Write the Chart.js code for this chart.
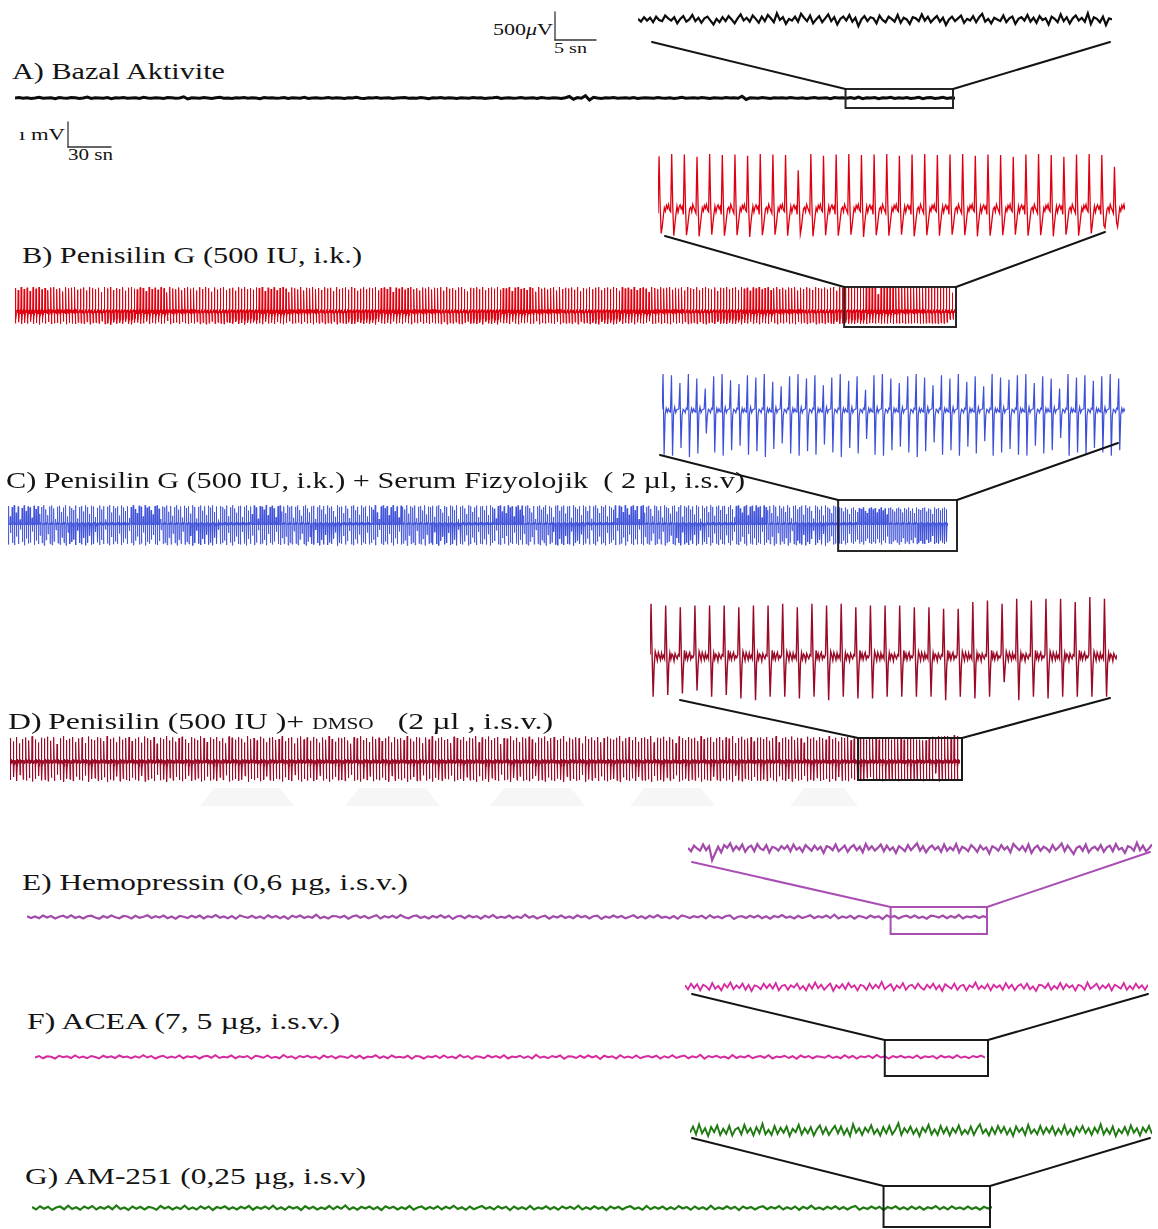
<!DOCTYPE html>
<html>
<head>
<meta charset="utf-8">
<title>EEG kayıtları</title>
<script src="https://cdn.jsdelivr.net/npm/chart.js@4.4.1/dist/chart.umd.min.js"></script>
<style>
  html, body { margin: 0; padding: 0; background: #fff; }
  #page { position: relative; width: 1158px; height: 1229px; overflow: hidden; background: #fff; }
  #page canvas { position: absolute; }
  .lbl { position: absolute; font-family: "Liberation Serif", "Times New Roman", serif; color: #141414;
         white-space: pre; transform-origin: 0 0; line-height: 1; }
  #ov { position: absolute; left: 0; top: 0; }
</style>
</head>
<body>
<div id="page"></div>
<script>
// ---------------------------------------------------------------------------
// Trace values are in hundredths of a millivolt (10 µV units).
// Spiking traces are stored as one peak and one trough per discharge plus a
// short inter-spike waveform; flat traces are stored sample by sample.
// ---------------------------------------------------------------------------
const UNIT_MV = 0.01;

// A) Bazal Aktivite
const aMain = [
  0,2,-1,1,-2,0,3,-1,0,1,-3,2,0,-1,2,1,-2,0,4,-2,
  1,0,-1,2,-3,1,0,2,-1,0,1,-2,3,0,-1,1,0,-2,2,1,
  -1,0,5,-4,1,0,-1,2,0,-2,1,3,-1,0,-2,1,0,2,-1,1,
  0,-3,2,0,1,-1,0,2,-2,1,0,-1,3,-2,0,1,-1,0,2,-1,
  1,0,-2,1,0,3,-1,-2,1,0,2,-1,0,1,-2,0,1,2,-1,0,
  -1,2,0,-3,1,0,2,-1,1,0,-2,1,0,-1,2,0,1,-2,0,1,
  3,-2,0,1,-1,0,2,-1,0,1,-2,2,0,-1,1,0,-2,1,6,-5,
  2,-1,9,-8,3,0,-2,1,0,2,-1,0,1,-1,2,-2,0,1,0,-1,
  2,0,-1,1,-2,0,3,-1,0,1,-1,2,0,-2,1,0,-1,2,0,1,
  -1,7,-6,1,0,-1,2,0,-2,1,0,1,-1,2,0,-1,1,-2,0,2,
  -1,0,1,-3,2,0,1,-1,2,-2,4,-3,1,0,2,-3,1,0,3,-2,
  1,-1,2,-2,0,3,-3,1,2,-2,0,3,-2,1,-1
];
const aInset = [
  2,-3,5,-1,4,-4,6,0,-2,8,3,-1,5,-6,2,7,-3,1,9,-2,
  4,-5,3,6,-1,-8,2,-4,5,-2,7,1,-6,3,10,-1,4,-3,8,2,
  -5,6,-2,9,3,-4,12,0,5,-7,2,-1,6,-3,11,4,-2,8,-6,1,
  7,-4,3,10,-2,5,-8,2,6,-1,9,-3,4,-11,1,7,-2,5,3,-6,
  8,0,-4,6,2,-3,9,-5,4,1,-7,5,3,-2,10,-1,6,-4,2,7,
  -3,4,-9,1,6,-2,3,8,-5,2,-1,7,-4,5,11,-3,2,-6,4,1,
  -2,8,-4,3,6,-7,2,5,-1,9,-3,4,-5,7,0,3,-8,6,2,-4,
  10,-2,5,-6,3,8,-1,4,-3,12,-7,5,2,-4,6,-9,3,1
];

// B) Penisilin G — peaks / troughs of each discharge
const bPreUp = [
  95,88,100,92,97,84,99,93,100,90,96,87,98,100,91,95,82,99,94,97,
  100,89,93,98,86,100,95,91,97,80,99,94,100,88,96,92,99,85,97,100,
  93,90,98,96,83,100,92,97,89,99,95,78,100,94,91,98,87,96,100,93,
  97,86,99,92,100,95,81,98,90,96,100,88,94,97,85,99,93,100,91,96,
  89,98,95,100,84,97,92,99,87,96,100,93,79,98,95,90,100,86,97,94,
  100,91,96,88,99,94,97,83,100,92,95,98,89,100,96,85,93,99,91,97,
  94,100,87,95,98,92,100,80,97,93,99,89,96,100,91,95,86,98,94,100,
  90,97,95,99,85,100,93,96,88,98,100,92,82,97,95,99,91,100,87,96,
  98,93,100,89,96,94,99,84,97,100,92,95,88,99,96,81,100,93,97,90,
  95,99,86,100,92,97,94,98,89,100,83,96,93,99,91,97,100,87,95,98,
  92,100,96,85,99,94,97,90,100,88,95,98,93,79,100,96,91,99,94,97,
  100,89,97,93,98,86,100,95,92,99,87,96,100,94,90,98,84,97,95,100,
  91,96,99,88,100,93,97,85,98,94,100,90,96,99,87,95,100,92,97,89,
  98,95,100,86,97,92,99,94,88,100,96,93,98,90,97,100,85,99,95
];
const bPreDown = [
  45,41,48,43,46,39,47,44,50,42,46,40,48,45,43,47,38,49,44,46,
  48,42,45,47,40,49,44,43,46,37,48,45,50,41,46,44,47,39,46,49,
  44,42,47,45,38,48,43,46,41,47,45,36,49,44,42,47,40,45,48,43,
  46,40,48,43,49,45,38,47,42,46,48,41,44,46,39,48,44,49,42,45,
  41,47,45,49,39,46,43,48,40,45,49,44,37,47,45,42,48,40,46,44,
  49,42,46,41,48,44,46,39,49,43,45,47,41,48,46,40,44,48,42,46,
  44,49,40,45,47,43,48,38,46,44,48,41,45,49,42,45,40,47,44,48,
  42,46,45,48,40,49,44,46,41,47,48,43,38,46,45,48,42,49,40,45,
  47,44,49,41,45,44,48,39,46,49,43,45,41,48,46,37,49,44,46,42,
  45,48,40,49,43,46,44,47,41,49,39,45,44,48,42,46,49,40,45,47,
  43,49,46,40,48,44,46,42,49,41,45,47,44,37,48,46,42,48,44,46,
  49,41,46,44,47,40,48,45,43,48,40,46,49,44,42,47,39,46,45,48,
  42,46,48,41,49,44,46,39,47,44,49,42,45,48,40,45,49,43,46,41,
  47,45,49,40,46,43,48,44,41,49,45,44,47,42,46,48,39,47,45
];
const bZoomUp = [
  96,100,99,95,100,98,99,97,100,99,98,71,100,97,99,100,98,99,100,97,
  99,100,98,99,100,97,99,98,95,99,100,98,95,99,100,98,77
];
const bZoomDown = [
  42,46,45,47,44,46,45,48,45,44,46,43,47,45,46,44,48,45,46,44,
  47,45,46,44,45,47,46,45,44,46,45,47,44,46,42,28,22
];
const bWaves = [
  [-6,'U',10,'D',-30,-12,4,-2,8,3,10,0],
  [-3,'U',6,'D',-26,-8,7,-4,5,9,2,6],
  [-8,'U',12,'D',-32,-14,2,5,-3,10,4,-1]
];

// C) Penisilin G + Serum Fizyolojik
const cPreUp = [
  72,30,68,75,45,70,18,64,74,52,70,66,25,73,60,71,40,68,75,58,
  35,70,74,62,20,69,73,48,66,75,30,71,64,56,74,22,68,72,50,75,
  67,40,73,70,28,65,74,58,71,19,69,75,46,72,63,70,34,74,66,52,
  71,24,68,75,60,44,73,69,30,75,65,70,55,38,72,74,61,20,70,67,
  74,49,72,33,68,75,57,70,26,73,64,71,42,75,68,22,69,74,53,71,
  36,73,66,75,48,70,18,72,68,59,74,31,67,75,62,45,71,73,28,69,
  75,54,70,40,74,66,21,72,69,57,75,35,68,73,63,27,71,74,50,70,
  44,75,67,72,25,69,74,56,33,71,75,62,46,70,73,20,68,75,58,72,
  39,74,65,71,52,29,75,68,70,43,73,61,24,72,75,55,69,37,74,66,
  71,30,73,68,57,75,46,20,70,74,63,72,35,67,75,51,70,26,73,69,
  58,75,41,71,66,74,23,69,72,54,75,38,70,67,73,29,71,75,60,45,
  72,68,31,74,70,56,75,19,69,73,62,40,75,71,48,66,74,27,70,72,
  55,73,36,75,68,61,22,72,74,50,70,43,75,66,71,30,69,74,57,73,
  34,71,75,63,46,72,20,70,74,58,68,75,39,71,65,28,73,75,53,69,
  74,42,70,72,25,75,67,60,71,36,74,69,52,73,21,70,75,62,44,72,
  68,75,30,71,66,57,74,24,73,69,48,75,62,37,70,74,55,72,19,71,
  75,45,69,73,60,32,74,70,54,72,26,75,67,63,41,71,74,50,68,75,
  29,72,66,74,58,70,38,75,69,21,73,64,71,47,75,68,33,70,74,56,
  71,73,40,68,75,59,27,72,74,62,45,70,75,35,69,73,51,74,66,
  70,26,74,67,55,72,44,75,69,31,73,62,70,48,75,66,23,71,74,59,
  68,73,37,75,64,70,52,22,74,69,57,72,34,75,67,61,43,73,70,65
];
const cPreDown = [
  82,36,76,84,50,80,22,72,85,58,78,74,30,83,66,80,46,76,86,64,
  40,79,84,70,24,77,82,54,75,86,34,80,72,62,84,26,76,81,56,85,
  75,46,82,79,32,73,84,64,80,22,78,85,52,81,70,79,38,84,74,58,
  80,28,76,85,66,50,82,78,34,86,72,79,62,44,81,84,68,24,79,75,
  84,55,81,38,76,85,63,79,30,82,72,80,48,86,76,26,78,84,60,80,
  42,82,74,85,54,79,22,81,76,66,84,36,75,86,70,50,80,82,32,78,
  86,60,79,46,84,74,25,81,78,64,85,40,76,82,70,31,80,84,56,79,
  50,85,75,81,29,78,84,62,38,80,86,70,52,79,82,24,76,85,64,81,
  44,84,73,80,58,33,86,76,79,48,82,68,28,81,85,61,78,42,84,74,
  80,34,82,76,63,85,52,24,79,84,70,81,40,75,86,57,79,30,82,78,
  65,86,46,80,74,84,27,78,81,60,85,43,79,75,82,33,80,86,67,51,
  81,76,36,84,79,62,85,22,78,82,70,45,86,80,54,74,84,31,79,81,
  61,82,41,86,76,68,26,81,84,56,79,48,85,74,80,34,78,84,64,82,
  39,80,85,70,52,81,24,79,84,65,76,86,44,80,73,32,82,85,59,78,
  84,47,79,81,29,86,75,67,80,41,84,78,58,82,25,79,85,70,50,81,
  76,85,35,80,74,64,84,28,82,78,54,86,70,42,79,84,61,81,22,80,
  85,51,78,82,67,37,84,79,60,81,30,86,75,70,46,80,84,56,76,85,
  33,81,74,84,65,79,43,85,78,25,82,72,80,53,86,76,38,79,84,62,
  80,82,45,76,85,66,31,81,84,70,51,79,86,40,78,82,57,84,74,
  79,31,84,75,63,80,50,86,78,36,82,70,79,56,85,74,27,80,84,66,
  77,82,43,85,72,79,60,26,84,76,64,81,40,86,75,69,49,82,78,73
];
const cZoomUp = [
  66,64,50,66,58,40,62,66,55,48,64,60,66,52,44,62,66,58,64,46,
  60,66,54,62,38,64,66,58,50,62,66,60,46,64,58,66,52,62,44,66,
  60,56,64,66,50,62,58,40,66,60,64,54,62,66,58
];
const cZoomDown = [
  78,80,66,82,76,40,74,80,70,62,78,72,82,68,58,76,80,72,78,60,
  74,82,66,76,50,78,80,70,64,74,82,72,56,78,70,80,64,76,54,80,
  74,68,78,80,62,76,70,48,80,74,78,66,74,80,70
];
const cWaves = [
  [3,'U','D',-6,5,-2,4,-1],
  [-2,'U','D',-4,7,-3,2,3],
  [4,'U','D',-8,3,1,-3,5]
];

// D) Penisilin + DMSO
const dPreUp = [
  96,82,100,74,92,98,86,103,90,78,97,94,101,85,99,72,95,104,88,93,
  100,80,94,98,76,102,91,87,99,95,83,104,92,97,79,101,89,96,100,84,
  93,99,77,102,95,88,100,73,97,92,104,86,98,81,95,101,90,76,99,94,
  87,103,96,80,98,92,100,84,95,75,102,97,89,99,93,78,104,91,96,86,
  101,94,79,97,100,88,92,103,83,96,99,74,95,102,90,98,85,100,93,77,
  98,89,104,92,81,97,95,100,86,73,99,94,103,88,96,80,101,92,97,84,
  95,102,78,99,91,96,87,104,93,82,100,97,75,98,90,103,85,95,99,88,
  92,76,101,96,89,100,83,97,94,104,79,98,91,102,87,95,100,72,96,93,
  103,86,97,80,99,94,101,90,77,98,95,102,84,96,100,88,93,104,81,97,
  90,99,95,74,103,92,98,86,100,79,96,101,93,89,97,104,83,95,99,87,
  100,81,96,98,92,104,78,97,94,101,85,99,90,75,102,96,88,100,93,97,
  84,103,91,97,99,80,95,100,87,98,93,104,76,96,101,89,94,99,82,97,
  98,92,100,85,96,103,79,95,99,90,102,88,97,94,77,101,93,98,86,100,
  95,89,104,91,97,82,99,96,101,87,94,100
];
const dPreDown = [
  72,60,76,52,70,74,64,78,68,56,73,71,77,62,75,50,72,79,66,70,
  76,58,71,74,54,78,68,65,75,72,61,79,70,73,57,77,67,72,76,62,
  70,75,55,78,72,66,76,51,73,69,79,64,74,59,72,77,68,54,75,71,
  65,78,73,58,74,69,76,62,72,53,78,73,67,75,70,56,79,68,72,64,
  77,71,57,73,76,66,69,78,61,72,75,52,71,78,68,74,63,76,70,55,
  74,67,79,69,59,73,72,76,64,51,75,71,78,66,72,58,77,69,73,62,
  72,78,56,75,68,73,65,79,70,60,76,74,53,74,67,78,63,72,75,66,
  69,54,77,72,67,76,61,73,71,79,57,74,68,78,65,72,76,50,73,70,
  78,64,73,58,75,71,77,67,55,74,72,78,62,73,76,66,70,79,59,74,
  68,75,72,52,78,69,74,64,76,57,73,77,70,67,74,79,61,72,75,65,
  76,59,73,74,69,79,56,74,71,77,63,75,68,53,78,73,66,76,70,74,
  62,78,69,73,75,58,72,76,65,74,70,79,54,73,77,67,71,75,60,74,
  74,69,76,63,73,78,57,72,75,68,78,66,74,71,55,77,70,74,64,76,
  72,67,79,68,74,60,75,73,77,65,71,76
];
const dZoomUp = [
  95,92,89,92,92,92,89,92,92,95,89,95,92,95,89,92,92,92,89,89,
  86,86,98,101,95,104,101,104,104,98,107,104
];
const dZoomDown = [
  71,68,65,60,71,68,74,77,71,71,74,71,77,71,74,74,71,71,71,71,
  77,71,74,71,45,77,71,74,71,71,71,71
];
const dWaves = [
  [4,'U',6,'D',-16,10,3,-6,8,2,-5,7,-2,3],
  [-3,'U',9,'D',-12,7,-4,5,2,-7,6,1,-3,4],
  [2,'U',4,'D',-18,12,-2,6,-5,3,8,-4,2,-1]
];

// E) Hemopressin
const eMain = [
  3,-4,2,-5,6,-2,4,-6,1,5,-3,7,-4,2,-6,3,5,-2,-7,4,
  -3,6,-1,-5,4,2,-6,5,-3,1,7,-4,3,-2,6,-5,2,-7,4,1,
  -4,5,-2,6,-6,3,-1,8,-3,2,-5,4,-7,6,1,-3,5,-4,2,-6,
  7,-2,4,-5,3,-8,5,-1,6,-4,2,-3,9,-5,1,-6,4,3,-2,5,
  -7,2,6,-3,4,-5,1,7,-6,3,-2,5,-4,8,-1,-5,3,6,-4,2,
  -6,4,-2,7,-3,5,-8,2,4,-5,6,-1,3,-7,5,-2,8,-4,1,-3,
  6,-5,2,-4,9,-3,4,-6,1,5,-7,3,-2,6,-4,2,-5,7,-1,4,
  -6,3,5,-8,2,-3,6,-2,4,-5,1,7,-4,3,-6,5,-2,8,-3,1,
  -5,4,-7,6,2,-4,3,-1,5,-6,7,-3,2,-5,4,6,-8,1,3,-4,
  5,-2,6,-5,3,-7,4,-1,8,-3,2,-6,5,-4,1,7,-5,3,-2,6,
  -4,9,-6,2,-3,5,-7,4,1,-5,6,-2,3,-8,7,-1,4,-6,2,5,
  -3,6,-4,1,-7,5,3,-2,6,-5,4,-3,8,-6,2,-1,5,-4,3,-2
];
const eInset = [
  2,-4,6,1,-3,8,-2,5,-20,-8,4,-6,7,2,10,-3,5,-1,8,-5,
  3,6,-4,9,1,-2,7,-6,4,2,-3,5,0,6,-4,8,-1,3,-5,7,
  2,-3,6,-1,4,-7,5,3,-2,8,-4,1,6,-5,3,7,-2,4,-6,9,
  -1,5,-3,2,8,-4,6,-2,3,-7,5,1,-4,7,-2,4,10,-3,5,-6,
  2,6,-1,4,-5,8,-3,3,-2,9,-6,4,1,-4,7,2,-5,6,-1,3,
  -8,5,2,-3,7,-1,4,-6,9,3,-2,5,-4,8,-7,2,6,-3,4,1,
  -5,7,-2,3,10,-4,6,-1,-9,2,5,-3,8,-6,1,4,-2,7,-5,3,
  6,-4,9,-1,2,-7,5,3,-3,11,-2,6,-4,1,8
];

// F) ACEA
const fMain = [
  -2,4,-5,3,1,-6,5,-1,3,-4,6,-3,2,-5,4,0,-6,5,-2,3,
  -4,6,-1,2,-5,3,-3,7,-2,4,-6,1,5,-4,2,-3,6,-5,3,-1,
  4,-6,2,5,-3,7,-4,1,-2,6,-5,3,-1,4,-7,5,2,-3,6,-4,
  1,-5,8,-2,3,-6,4,-1,5,-3,2,-7,6,-2,4,-5,3,1,-4,6,
  -3,5,-6,2,-1,7,-4,3,-5,6,-2,1,-3,5,-7,4,2,-6,3,-1,
  5,-4,6,-3,2,-5,8,-2,4,-7,3,1,-5,6,-2,4,-3,7,-6,2,
  -1,5,-4,3,-6,9,-3,2,-5,4,-1,6,-7,3,2,-4,5,-3,6,-2,
  4,-8,5,-1,3,-6,7,-3,2,-4,6,-5,1,4,-2,5,-6,3,-3,7,
  -4,2,6,-5,3,-2,9,-7,4,-1,5,-3,2,-6,8,-4,3,-2,6,-5,
  1,4,-3,7,-6,2,-1,5,-4,3,-7,6,-2,4,-5,3,1,-3,6,-4,
  2,-5,7,-3,4,-6,3,-1,5,-4,8,-2,3,-6,4,-2,5,-3,2,-4,
  6,-5,3,-1,4,-6,5,-2,3,-4,7,-3,2,-5,4,-1,6,-3
];
const fInset = [
  3,-4,6,-2,5,-6,4,1,-5,7,-3,2,-6,5,-1,8,-4,3,-2,6,
  -5,4,-7,3,1,-4,6,-2,5,-3,7,-6,2,4,-5,3,-1,6,-4,2,
  -6,5,-3,8,-2,4,-5,1,6,-7,3,-2,5,-4,7,-1,3,-6,4,2,
  -5,6,-3,4,-2,9,-4,1,5,-6,3,-2,7,-5,2,4,-3,6,-1,-5,
  4,-2,6,-4,3,-7,5,1,-3,6,-5,2,4,-6,3,-1,8,-4,2,-3,
  5,-6,4,-1,3,-5,7,-2,4,-6,2,5,-3,6,-4,1,-7,4,3,-2,
  6,-5,2,-3,7,-4,5,-1,3,-6,4,2,-5,8,-3,1,6,-4,3,-2,
  5,-6,4,1,-3,7,-5,2,-4,6,-2,3,-5,4
];

// G) AM-251
const gMain = [
  4,-6,7,-3,5,-8,2,6,-5,9,-4,3,-7,6,-2,8,-6,4,-3,7,
  -5,10,-4,2,-8,6,-3,5,-6,4,1,-7,8,-2,5,-6,3,-4,9,-5,
  2,-6,7,-3,6,-8,4,-1,7,-5,3,-6,5,-2,8,-7,4,-3,6,-4,
  9,-5,3,-7,6,-2,4,-8,7,-3,5,-6,2,-4,8,-5,6,-3,10,-6,
  3,-7,5,-2,6,-5,4,-8,7,-1,5,-6,3,-4,8,-7,2,6,-5,4,
  -3,7,-6,5,-2,9,-4,3,-7,6,-5,2,8,-3,4,-6,7,-2,5,-8,
  6,-4,3,-5,8,-6,2,-3,7,-5,4,-7,6,-2,5,-4,9,-6,3,-5,
  7,-3,4,-8,6,-2,5,-6,3,7,-4,2,-7,8,-5,4,-3,6,-6,3,
  -5,8,-2,4,-7,6,-4,3,-6,9,-5,2,-4,7,-3,5,-8,6,-2,4,
  -6,3,7,-5,4,-2,8,-6,3,-4,6,-7,5,-3,9,-4,2,-6,5,-3,
  7,-5,4,-6,3,8,-7,2,-4,6,-3,5,-8,4,-2,7,-5,3,-6,6,
  -4,5,-7,3,-2,8,-5,4,-6,7,-3,2,-5,6,-4,3,-7,5,-2,4
];
const gInset = [
  -3,8,-6,12,-4,5,-9,7,-2,10,-7,4,-5,9,-8,3,6,-6,11,-3,
  5,-8,7,-4,13,-6,2,-7,9,-5,6,-3,8,-9,4,-2,11,-6,5,-4,
  7,-8,3,10,-5,6,-7,2,9,-4,8,-6,4,-9,12,-3,5,-7,6,-2,
  10,-5,3,-8,7,-4,9,-6,2,14,-7,5,-3,8,-5,4,-9,6,-2,11,
  -6,3,-7,9,-4,6,-8,5,-3,10,-6,2,-5,8,-7,4,12,-4,3,-8,
  6,-5,9,-3,7,-6,4,-9,8,-2,5,-7,11,-4,3,-6,9,-5,6,-3,
  8,-7,4,-5,10,-6,3,-8,7,-2,9,-4,5,-7,6,-3,12,-6,4,-5,
  8,-9,3,-4,7,-6,10,-3,5,-8,6,-2,9,-5
];

// Panel captions
const captions = [
  'A) Bazal Aktivite',
  'B) Penisilin G (500 IU, i.k.)',
  'C) Penisilin G (500 IU, i.k.) + Serum Fizyolojik  ( 2 µl, i.s.v)',
  ['D)\u2009Penisilin (500 IU )+ ', 'DMSO', '   (2 µl , i.s.v.)'],
  'E) Hemopressin (0,6 µg, i.s.v.)',
  'F) ACEA (7, 5 µg, i.s.v.)',
  'G) AM-251 (0,25 µg, i.s.v)'
];

// ---------------------------------------------------------------------------
// Build a sampled spike train: each discharge uses one inter-spike waveform,
// with 'U' replaced by its peak and 'D' by its trough.
function spikeTrain(up, down, waves) {
  const n = Math.min(up.length, down.length);
  const out = [];
  for (let k = 0; k < n; k++) {
    const w = waves[k % waves.length];
    for (const s of w) out.push(s === 'U' ? up[k] : s === 'D' ? -down[k] : s);
  }
  return out;
}
function spikeCount(up, down) { return Math.min(up.length, down.length); }

const bAll = spikeTrain(bPreUp.concat(bZoomUp), bPreDown.concat(bZoomDown), bWaves);
const bZoom = spikeTrain(bZoomUp, bZoomDown, bWaves);
const cAll = spikeTrain(cPreUp.concat(cZoomUp), cPreDown.concat(cZoomDown), cWaves);
const cZoom = spikeTrain(cZoomUp, cZoomDown, cWaves);
const dAll = spikeTrain(dPreUp.concat(dZoomUp), dPreDown.concat(dZoomDown), dWaves);
const dZoom = spikeTrain(dZoomUp, dZoomDown, dWaves);

const bFrom = spikeCount(bPreUp, bPreDown) * bWaves[0].length;
const cFrom = spikeCount(cPreUp, cPreDown) * cWaves[0].length;
const dFrom = spikeCount(dPreUp, dPreDown) * dWaves[0].length;

// Page layout (pixels) for every recording
const MAIN_PX_PER_MV = 25;
const ZOOM_PX_PER_MV = 56;
const panels = [
  { color: '#0c0c0c',
    main:  { data: aMain, left: 15, width: 940, base: 98, half: 14, lw: 3 },
    zoom:  { data: aInset, left: 638, width: 474, base: 20, half: 18, lw: 2.2 },
    box:   { from: 207, to: aMain.length - 1, padL: 1, padR: -2, top: 89, bottom: 108, color: '#262626' },
    links: { l: [652, 42], r: [1110, 42], color: '#141414' } },
  { color: '#de0010',
    main:  { data: bAll, left: 15, width: 940, base: 312, half: 32, lw: 1 },
    zoom:  { data: bZoom, left: 658, width: 467, base: 210, half: 66, lw: 1.3 },
    box:   { from: bFrom, to: bAll.length - 1, padL: 1, padR: 1, top: 287, bottom: 327, color: '#262626' },
    links: { l: [665, 236], r: [1105, 232], color: '#141414' } },
  { color: '#3c4fd8',
    main:  { data: cAll, left: 8, width: 940, base: 524, half: 32, lw: 0.8 },
    zoom:  { data: cZoom, left: 662, width: 463, base: 411, half: 52, lw: 1.2 },
    box:   { from: cFrom, to: cAll.length - 1, padL: 1, padR: 9, top: 500, bottom: 551, color: '#262626' },
    links: { l: [660, 455], r: [1118, 443], color: '#141414' } },
  { color: '#9a0a26',
    main:  { data: dAll, left: 10, width: 950, base: 762, half: 32, lw: 1 },
    zoom:  { data: dZoom, left: 650, width: 467, base: 657, half: 66, lw: 1.4 },
    box:   { from: dFrom, to: dAll.length - 1, padL: 2, padR: 2, top: 738, bottom: 780, color: '#1a1a1a' },
    links: { l: [680, 700], r: [1110, 698], color: '#141414' } },
  { color: '#a24bab',
    main:  { data: eMain, left: 27, width: 960, base: 917, half: 14, lw: 2.2 },
    zoom:  { data: eInset, left: 688, width: 464, base: 849, half: 18, lw: 2.2 },
    box:   { from: 215, to: eMain.length - 1, padL: 0, padR: 0, top: 907, bottom: 934, color: '#a94fb3' },
    links: { l: [692, 862], r: [1150, 852], color: '#a94fb3' } },
  { color: '#d62aa0',
    main:  { data: fMain, left: 35, width: 950, base: 1057, half: 14, lw: 2 },
    zoom:  { data: fInset, left: 685, width: 463, base: 987, half: 16, lw: 1.8 },
    box:   { from: 212, to: fMain.length - 1, padL: 0, padR: 3, top: 1040, bottom: 1076, color: '#1a1a1a' },
    links: { l: [692, 994], r: [1148, 994], color: '#141414' } },
  { color: '#1f7a12',
    main:  { data: gMain, left: 32, width: 960, base: 1208, half: 14, lw: 2.2 },
    zoom:  { data: gInset, left: 690, width: 462, base: 1131, half: 18, lw: 1.9 },
    box:   { from: 212, to: gMain.length - 1, padL: 0, padR: -2, top: 1186, bottom: 1227, color: '#1a1a1a' },
    links: { l: [692, 1138], r: [1150, 1138], color: '#141414' } }
];

const captionLayout = [
  { x: 12, base: 79,   size: 24, w: 213 },
  { x: 22, base: 263,  size: 24, w: 340 },
  { x: 6,  base: 488,  size: 24, w: 739 },
  { x: 8,  base: 729,  size: 24, w: 545, small: 16 },
  { x: 22, base: 890,  size: 24, w: 386 },
  { x: 27, base: 1029, size: 24, w: 313 },
  { x: 25, base: 1184, size: 24, w: 341 }
];

// ---------------------------------------------------------------------------
const page = document.getElementById('page');

function drawTrace(values, cfg, pxPerMv, color) {
  const cv = document.createElement('canvas');
  const h = cfg.half * 2;
  cv.width = cfg.width; cv.height = h;
  cv.style.left = cfg.left + 'px';
  cv.style.top = (cfg.base - cfg.half) + 'px';
  cv.style.width = cfg.width + 'px';
  cv.style.height = h + 'px';
  page.appendChild(cv);
  const span = cfg.half / pxPerMv;
  const pts = values.map((v, i) => ({ x: i, y: v * UNIT_MV }));
  const chart = new Chart(cv, {
    type: 'line',
    data: { datasets: [{ data: pts, borderColor: color, borderWidth: cfg.lw,
                         pointRadius: 0, tension: 0, fill: false, borderJoinStyle: 'miter' }] },
    options: {
      responsive: false, animation: false, parsing: false, normalized: true, events: [],
      devicePixelRatio: 1,
      layout: { padding: 0 },
      plugins: { legend: { display: false }, tooltip: { enabled: false } },
      scales: {
        x: { type: 'linear', display: false, min: 0, max: values.length - 1 },
        y: { type: 'linear', display: false, min: -span, max: span }
      }
    }
  });
  return { chart, left: cfg.left };
}

const mains = [];
panels.forEach(p => {
  mains.push(drawTrace(p.main.data, p.main, MAIN_PX_PER_MV, p.color));
  drawTrace(p.zoom.data, p.zoom, ZOOM_PX_PER_MV, p.color);
});

// Captions
captions.forEach((c, i) => {
  const L = captionLayout[i];
  const d = document.createElement('div');
  d.className = 'lbl';
  d.style.fontSize = L.size + 'px';
  if (Array.isArray(c)) {
    c.forEach((part, j) => {
      const s = document.createElement('span');
      s.textContent = part;
      if (j === 1) s.style.fontSize = L.small + 'px';
      d.appendChild(s);
    });
  } else {
    d.textContent = c;
  }
  d.style.left = L.x + 'px';
  d.style.top = (L.base - 0.84 * L.size) + 'px';
  page.appendChild(d);
  const w = d.getBoundingClientRect().width;
  d.style.transform = 'scaleX(' + (L.w / w).toFixed(4) + ')';
});

// Scale-bar texts, fitted to their widths
function smallText(html, x, base, size, width, alignRight) {
  const d = document.createElement('div');
  d.className = 'lbl';
  d.style.fontSize = size + 'px';
  d.innerHTML = html;
  page.appendChild(d);
  const w = d.getBoundingClientRect().width;
  d.style.left = (alignRight ? x - width : x) + 'px';
  d.style.top = (base - 0.84 * size) + 'px';
  d.style.transform = 'scaleX(' + (width / w).toFixed(4) + ')';
}
smallText('500<i>μ</i>V', 553, 35, 16, 60, true);
smallText('5 sn', 554, 54, 15, 33, false);
smallText('ı mV', 65, 140, 17, 46, true);
smallText('30 sn', 68, 160, 16, 45, false);

// Overlay: zoom boxes, connector lines, scale bars
const NS = 'http://www.w3.org/2000/svg';
const svg = document.createElementNS(NS, 'svg');
svg.setAttribute('id', 'ov');
svg.setAttribute('width', 1158);
svg.setAttribute('height', 1229);
page.appendChild(svg);
function seg(x1, y1, x2, y2, color, w) {
  const l = document.createElementNS(NS, 'line');
  l.setAttribute('x1', x1); l.setAttribute('y1', y1);
  l.setAttribute('x2', x2); l.setAttribute('y2', y2);
  l.setAttribute('stroke', color); l.setAttribute('stroke-width', w);
  l.setAttribute('stroke-linecap', 'round');
  svg.appendChild(l);
}
function poly(points, fill) {
  const g = document.createElementNS(NS, 'polygon');
  g.setAttribute('points', points.map(p => p.join(',')).join(' '));
  g.setAttribute('fill', fill);
  svg.insertBefore(g, svg.firstChild);
}

panels.forEach((p, i) => {
  const m = mains[i];
  const xs = m.chart.scales.x;
  const x0 = m.left + xs.getPixelForValue(p.box.from) - p.box.padL;
  const x1 = m.left + xs.getPixelForValue(p.box.to) + p.box.padR;
  const r = document.createElementNS(NS, 'rect');
  r.setAttribute('x', x0); r.setAttribute('y', p.box.top);
  r.setAttribute('width', x1 - x0); r.setAttribute('height', p.box.bottom - p.box.top);
  r.setAttribute('fill', 'none'); r.setAttribute('stroke', p.box.color);
  r.setAttribute('stroke-width', 2);
  svg.appendChild(r);
  seg(p.links.l[0], p.links.l[1], x0, p.box.top, p.links.color, 2);
  seg(p.links.r[0], p.links.r[1], x1, p.box.top, p.links.color, 2);
});

seg(555, 12, 555, 40, '#333', 1.3);
seg(555, 40, 596, 40, '#333', 1.3);
seg(68, 122, 68, 147, '#333', 1.3);
seg(68, 147, 111, 147, '#333', 1.3);

// faint background marks below panel D
[[200, 294], [345, 440], [490, 585], [630, 715], [790, 858]].forEach(([a, b]) => {
  poly([[a + 14, 788], [b - 14, 788], [b, 806], [a, 806]], '#f6f6f6');
});
</script>
</body>
</html>
